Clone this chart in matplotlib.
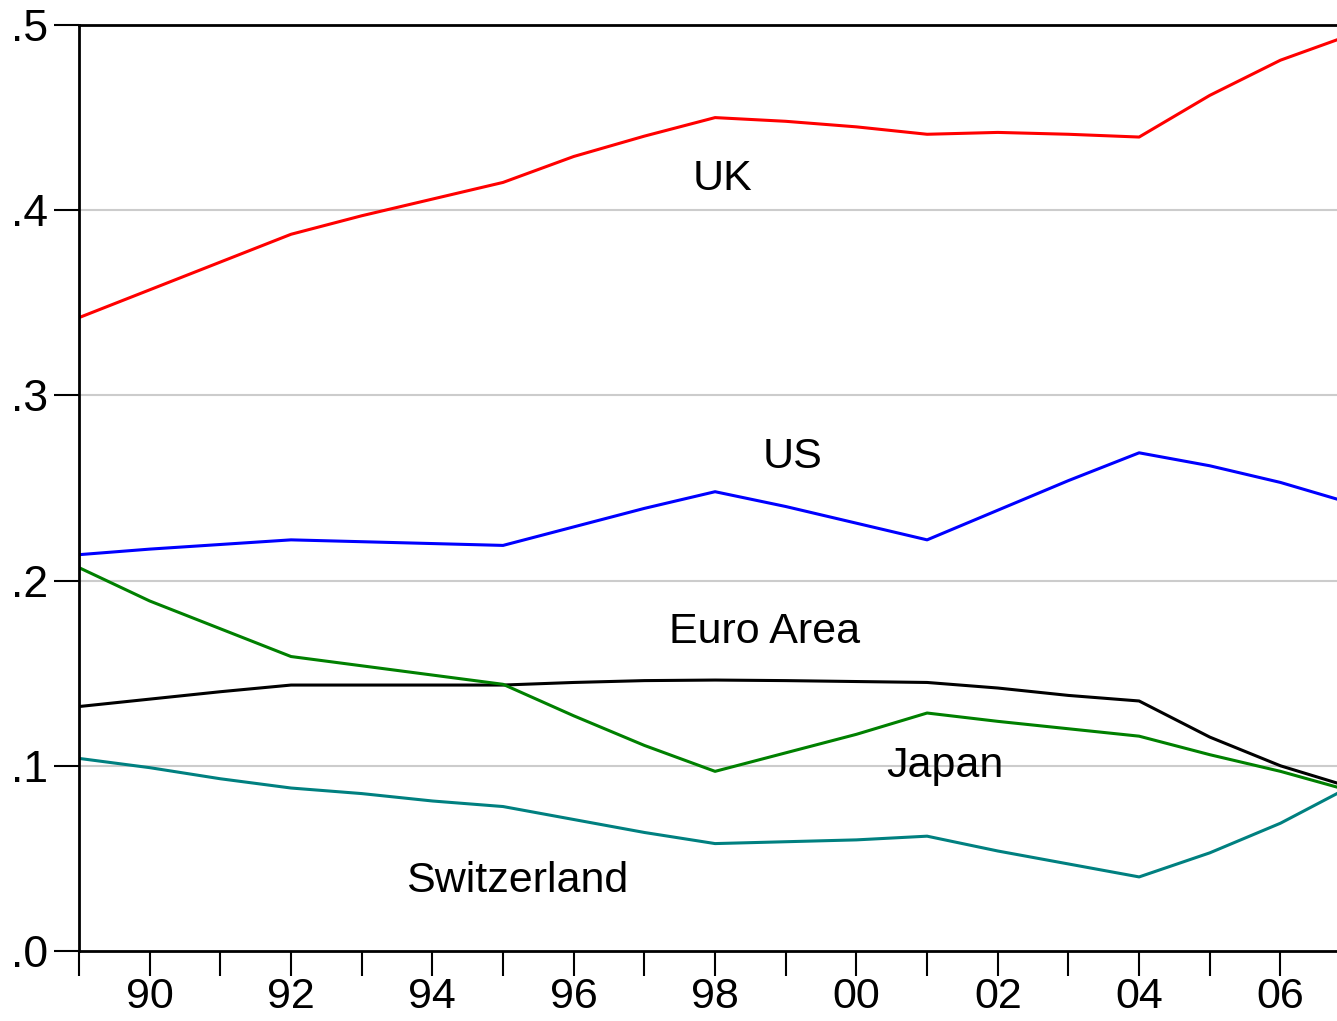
import matplotlib.pyplot as plt
import matplotlib.ticker as mticker

plt.rcParams['font.family'] = ['Liberation Sans', 'DejaVu Sans']

# years (last point is where the plot is cut off on the right)
years = [1989, 1990, 1991, 1992, 1993, 1994, 1995, 1996, 1997, 1998, 1999,
         2000, 2001, 2002, 2003, 2004, 2005, 2006, 2006.8]

uk = [.342, .357, .372, .387, .397, .406, .415, .429, .440, .450, .448,
      .445, .441, .442, .441, .4395, .462, .481, .492]
us = [.214, .217, .2195, .222, .221, .220, .219, .229, .239, .248, .240,
      .231, .222, .238, .254, .269, .262, .253, .244]
japan = [.207, .189, .174, .159, .154, .149, .144, .127, .111, .097, .107,
         .117, .1285, .124, .120, .116, .106, .097, .0885]
euro = [.132, .136, .140, .1436, .1436, .1436, .1436, .145, .146, .1463, .146,
        .1455, .145, .142, .138, .135, .1155, .100, .0907]
swiss = [.104, .099, .093, .088, .085, .081, .078, .071, .064, .058, .059,
         .060, .062, .054, .047, .040, .053, .069, .085]

yticks = [0.0, 0.1, 0.2, 0.3, 0.4, 0.5]
ytick_labels = ['.0', '.1', '.2', '.3', '.4', '.5']
xtick_years = [1990, 1992, 1994, 1996, 1998, 2000, 2002, 2004, 2006]
xtick_labels = ['90', '92', '94', '96', '98', '00', '02', '04', '06']

fig = plt.figure(figsize=(13.37, 10.21), dpi=100)
ax = fig.add_axes([79 / 1337, 1 - 951 / 1021, 1 - 79 / 1337, (951 - 25) / 1021])

lw = 2.2
ax.plot(years, uk, color='#ff0000', lw=lw)
ax.plot(years, us, color='#0000ff', lw=lw)
ax.plot(years, euro, color='#000000', lw=lw)
ax.plot(years, japan, color='#008000', lw=lw)
ax.plot(years, swiss, color='#008080', lw=lw)

# horizontal grid lines
for g in [0.1, 0.2, 0.3, 0.4]:
    ax.axhline(g, color='#cccccc', lw=1.5, zorder=0)

ax.set_xlim(1989, 2006.8)
ax.set_ylim(0, 0.5)

ax.set_yticks(yticks)
ax.set_yticklabels(ytick_labels)
ax.set_xticks(xtick_years)
ax.set_xticklabels(xtick_labels)
ax.xaxis.set_minor_locator(mticker.FixedLocator(range(1989, 2007, 2)))

ax.tick_params(axis='both', which='major', labelsize=32, length=18, width=1.5,
               direction='out', pad=4, color='black')
ax.tick_params(axis='x', which='minor', length=18, width=1.5, direction='out')
ax.tick_params(axis='x', which='major', labelsize=31, pad=1)

for side in ['left', 'bottom', 'top']:
    ax.spines[side].set_linewidth(2)
ax.spines['right'].set_visible(False)

# series labels
fs = 31
ax.text(1998.1, 0.417, 'UK', fontsize=fs, ha='center', va='center')
ax.text(1999.1, 0.267, 'US', fontsize=fs, ha='center', va='center')
ax.text(1998.7, 0.172, 'Euro Area', fontsize=fs, ha='center', va='center')
ax.text(2001.25, 0.100, 'Japan', fontsize=fs, ha='center', va='center')
ax.text(1995.2, 0.038, 'Switzerland', fontsize=fs, ha='center', va='center')

fig.savefig('out.png', dpi=100)
